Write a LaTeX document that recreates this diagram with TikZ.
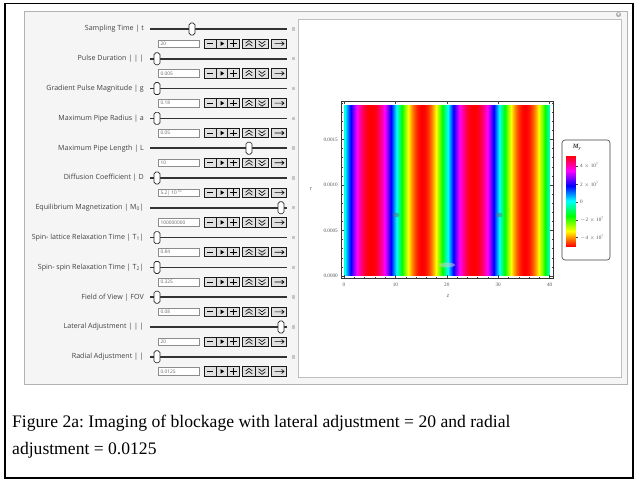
\documentclass[tikz,border=0pt]{standalone}
\usepackage{fontspec}
\setmainfont{Liberation Serif}
\newfontfamily\uifont{Open Sans}
\begin{document}
\frenchspacing
\begin{tikzpicture}[x=1pt,y=-1pt,
  lbl/.style={font=\uifont\fontsize{7.1}{8}\selectfont, text=black!75, anchor=east, inner sep=0},
  field/.style={draw=black!45, fill=white, line width=0.4},
  fieldtxt/.style={font=\uifont\fontsize{4.8}{5.5}\selectfont, text=black!60, anchor=west, inner sep=0},
  btn/.style={draw=black!90, fill=black!12, line width=0.8},
  thumb/.style={draw=black!85, fill=white, line width=0.7, rounded corners=1.8},
  track/.style={draw=black!80, line width=1.6},
  ico/.style={draw=black, line width=0.75},
  tick/.style={draw=black!75, line width=0.35},
  ticklbl/.style={font=\fontsize{5.2}{6}\selectfont, text=black!65, inner sep=0},
  caption/.style={font=\fontsize{17.6}{20}\selectfont, anchor=base west, inner sep=0}
]
\useasboundingbox (0,0) rectangle (637,481);
\fill[white] (0,0) rectangle (637,481);
% outer frame
\draw[black, line width=1.8] (5,3.5) rectangle (633,478);
% panel
\fill[black!4] (24,11.5) rectangle (627,384);
\draw[black!30, line width=0.6] (24,11.5) rectangle (627,384);
\draw[black!25, fill=white, line width=0.6] (298,19) rectangle (621.5,377);
\fill[black!30] (618.5,14.5) circle (2.6pt);
\fill[white] (618.5,13.8) circle (1.1pt);

% controls
\foreach \k/\lab/\val/\tx in {
  0/{Sampling Time | t}/{20}/192,
  1/{Pulse Duration | | |}/{0.005}/157,
  2/{Gradient Pulse Magnitude | g}/{0.18}/157,
  3/{Maximum Pipe Radius | a}/{0.05}/157,
  4/{Maximum Pipe Length | L}/{10}/249,
  5/{Diffusion Coefficient | D}/{5.2|\ 10\,\textsuperscript{10}}/157,
  6/{Equilibrium Magnetization | M\textsubscript{0}|}/{100000000}/281,
  7/{Spin- lattice Relaxation Time | T\textsubscript{1}|}/{0.84}/157,
  8/{Spin- spin Relaxation Time | T\textsubscript{2}|}/{0.325}/157,
  9/{Field of View | FOV}/{0.08}/157,
  10/{Lateral Adjustment | | |}/{20}/281,
  11/{Radial Adjustment | |}/{0.0125}/157}{
  \pgfmathsetmacro\ys{29+29.8*\k}
  \pgfmathsetmacro\yb{43.6+29.8*\k}
  \node[lbl] (lab\k) at (144,\ys) {\lab};
  \draw[track] (150,\ys) -- (287,\ys);
  \draw[thumb] (\tx-3,\ys-6) rectangle (\tx+3,\ys+6);
  \fill[black!22] (291.5,\ys-1.8) rectangle (295,\ys+1.7);
  \draw[field] (158,\yb-3.8) rectangle (199,\yb+3.8);
  \node[fieldtxt] (val\k) at (160.5,\yb) {\val};
  \foreach \a/\b in {204/216.7, 216.7/227.7, 227.7/239.3, 242.3/255.7, 255.7/268.3, 271.7/286.7}
    \draw[btn] (\a,\yb-4.6) rectangle (\b,\yb+4.6);
  % minus
  \draw[ico] (207.3,\yb) -- (213.4,\yb);
  % play
  \fill[black] (220.6,\yb-2.3) -- (224.2,\yb) -- (220.6,\yb+2.3) -- cycle;
  % plus
  \draw[ico] (230.3,\yb) -- (236.7,\yb) (233.5,\yb-3.2) -- (233.5,\yb+3.2);
  % double up
  \draw[ico, line width=0.6] (245.6,\yb-0.4) -- (249,\yb-3) -- (252.4,\yb-0.4)
        (245.6,\yb+2.6) -- (249,\yb) -- (252.4,\yb+2.6);
  % double down
  \draw[ico, line width=0.6] (258.6,\yb+0.4) -- (262,\yb+3) -- (265.4,\yb+0.4)
        (258.6,\yb-2.6) -- (262,\yb) -- (265.4,\yb-2.6);
  % arrow
  \draw[ico, line width=0.6] (274.6,\yb) -- (284,\yb) (281.6,\yb-2) -- (284,\yb) -- (281.6,\yb+2);
}

% density plot bands
\foreach \i in {0,...,205}{
  \pgfmathsetmacro\hh{(180+180*sin(18*((\i+0.5)/5.14-0.3)))/360}
  \pgfmathsetmacro\hh{min(max(\hh,0),0.999)}
  \definecolor{sc}{hsb}{\hh,1,1}
  \fill[sc] (344+\i,105) rectangle (345.4+\i,276);
}
% blockage artefacts
\fill[black!60, opacity=0.45] (396,215) ellipse (3.5pt and 2.3pt);
\fill[black!60, opacity=0.45] (499,215) ellipse (3.5pt and 2.3pt);
\fill[black!20, opacity=0.55] (447,265) ellipse (8pt and 2.4pt);

% frame
\draw[black!80, line width=0.5] (341,101) rectangle (553,278);
\foreach \v in {0,2,...,40}{
  \pgfmathsetmacro\px{344+5.14*\v}
  \draw[tick] (\px,278) -- (\px,276.5) (\px,101) -- (\px,102.5);
}
\foreach \v in {0,10,20,30,40}{
  \pgfmathsetmacro\px{344+5.14*\v}
  \draw[tick] (\px,278) -- (\px,275) (\px,101) -- (\px,104);
  \node[ticklbl, anchor=north] (xt\v) at (\px,282.5) {\v};
}
\foreach \v in {0,...,19}{
  \pgfmathsetmacro\py{276-9.11*\v}
  \draw[tick] (341,\py) -- (342.5,\py) (553,\py) -- (551.5,\py);
}
\foreach \v/\t in {0/0.0000,5/0.0005,10/0.0010,15/0.0015}{
  \pgfmathsetmacro\py{276-9.11*\v}
  \draw[tick] (341,\py) -- (344,\py) (553,\py) -- (550,\py);
  \node[ticklbl, anchor=east] (yt\v) at (338,\py) {\t};
}
\node[ticklbl, font=\fontsize{6}{7}\selectfont\itshape] (xlab) at (448,296) {z};
\node[ticklbl, font=\fontsize{6}{7}\selectfont\itshape] (ylab) at (311,189) {r};

% legend
\draw[black!75, line width=0.6, rounded corners=3, fill=white] (562,140) rectangle (610,260);
\node[inner sep=0, font=\fontsize{6.5}{7}\selectfont\bfseries\itshape, text=black!80] (ltitle) at (577,147.5) {M\textsubscript{y}};
\foreach \j in {0,...,90}{
  \pgfmathsetmacro\hh{(180+180*(201.4-(156.5+\j))/45.4)/360}
  \pgfmathsetmacro\hh{min(max(\hh,0),0.999)}
  \definecolor{sc}{hsb}{\hh,1,1}
  \fill[sc] (566,156+\j) rectangle (575.5,157.3+\j);
}
\foreach \n/\py/\t in {a/165.7/{4 $\times$ 10\textsuperscript{7}}, b/184.3/{2 $\times$ 10\textsuperscript{7}}, c/201.7/{0}, d/220/{$-$2 $\times$ 10\textsuperscript{7}}, e/237.3/{$-$4 $\times$ 10\textsuperscript{7}}}{
  \draw[tick] (575.5,\py) -- (578,\py);
  \node[ticklbl, anchor=west] (leg\n) at (580,\py) {\t};
}

% caption
\node[caption] (cap1) at (12,427) {Figure 2a: Imaging of blockage with lateral adjustment = 20 and radial};
\node[caption] (cap2) at (12,454) {adjustment = 0.0125};
\end{tikzpicture}
\end{document}
